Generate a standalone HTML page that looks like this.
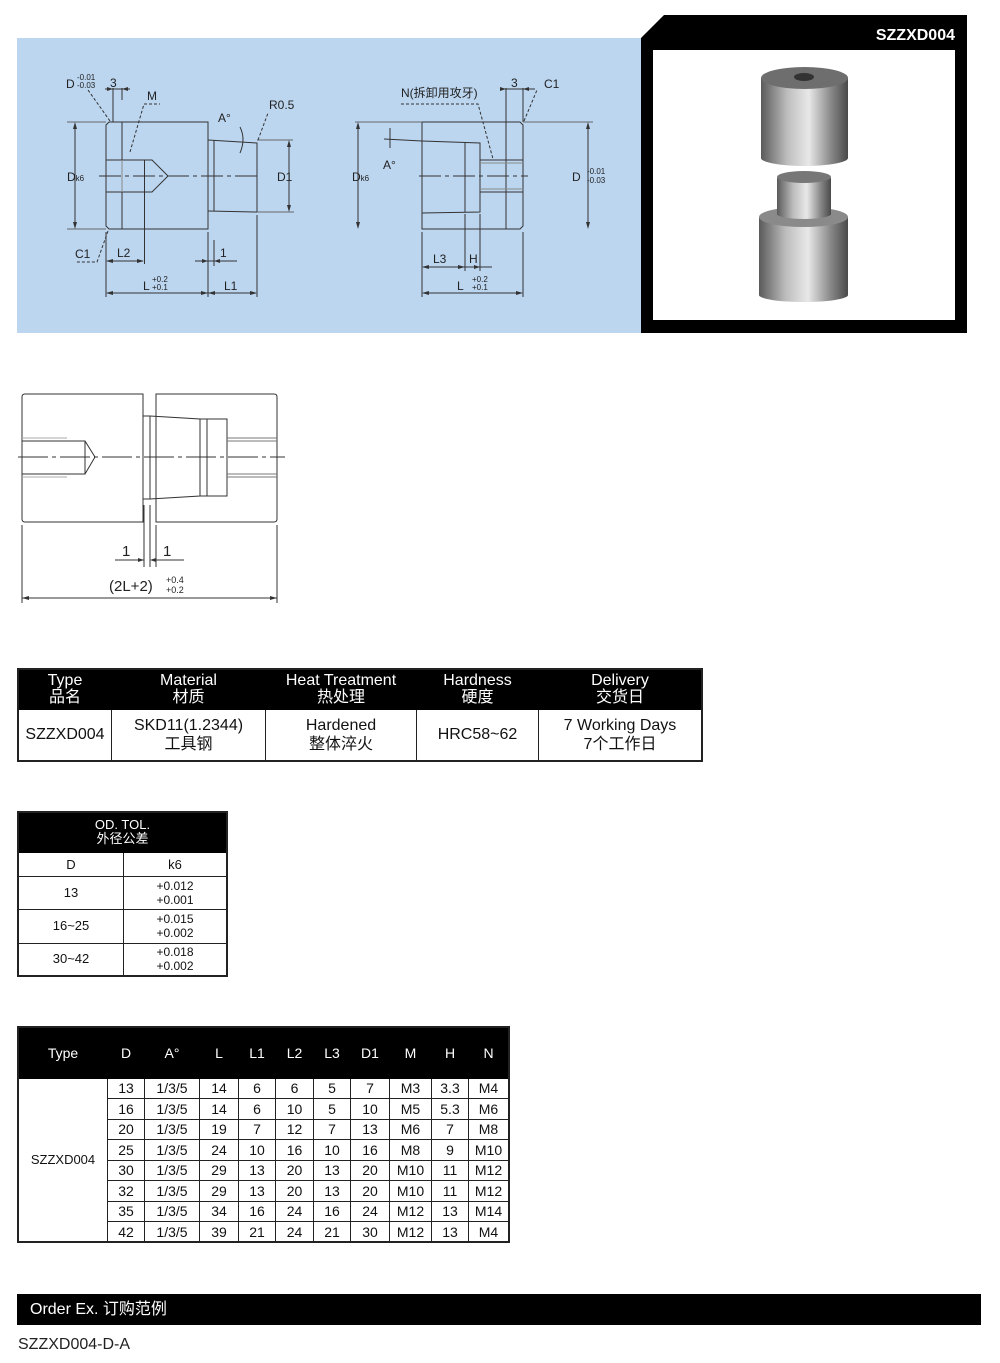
<!DOCTYPE html>
<html><head><meta charset="utf-8"><style>
body{margin:0;background:#fff;width:1000px;height:1363px;position:relative;overflow:hidden;font-family:"Liberation Sans","Noto Sans CJK SC",sans-serif;}
.a{position:absolute}
table{border-collapse:collapse;position:absolute;font-family:"Liberation Sans","Noto Sans CJK SC",sans-serif;color:#111}
td{border:1px solid #222;text-align:center;padding:0}
.h td{background:#000;color:#fff;border-color:#000}
</style></head><body>
<div class="a" style="left:17px;top:38px;width:624px;height:295px;background:#bcd6f0"></div>
<svg class="a" style="left:0;top:0" width="1000" height="340">
<polygon points="641,38 664,15 967,15 967,333 641,333" fill="#000"/>
<rect x="653" y="50" width="302" height="270" fill="#fff"/>
<text x="955" y="40" fill="#fff" font-size="16" font-weight="bold" text-anchor="end" font-family="Liberation Sans">SZZXD004</text>
<defs>
<linearGradient id="g" x1="0" x2="1"><stop offset="0" stop-color="#5a5a5a"/><stop offset=".3" stop-color="#bdbdbd"/><stop offset=".55" stop-color="#e8e8e8"/><stop offset=".8" stop-color="#8a8a8a"/><stop offset="1" stop-color="#4a4a4a"/></linearGradient>
</defs>
<rect x="761" y="78" width="87" height="80" fill="url(#g)"/>
<ellipse cx="804.5" cy="158" rx="43.5" ry="8" fill="url(#g)"/>
<ellipse cx="804.5" cy="78" rx="43.5" ry="11" fill="#6e6e6e"/>
<ellipse cx="804" cy="77" rx="10" ry="4" fill="#333"/>
<rect x="759" y="217" width="89" height="78" fill="url(#g)"/>
<ellipse cx="803.5" cy="295" rx="44.5" ry="7" fill="url(#g)"/>
<ellipse cx="803.5" cy="217" rx="44.5" ry="10" fill="#8a8a8a"/>
<rect x="777" y="178" width="54" height="36" fill="url(#g)"/>
<ellipse cx="804" cy="214" rx="27" ry="5" fill="url(#g)"/>
<ellipse cx="804" cy="177" rx="27" ry="6" fill="#777"/>
<g stroke="#333" stroke-width="1" fill="none" font-family="Liberation Sans" font-size="12">
<!-- left part -->
<path d="M109,122 H208 V229 H109 L106,226 V125 Z"/>
<line x1="122" y1="122" x2="122" y2="229"/>
<path d="M106,160 H144.5 V192 H106 M144.5,160 L152,160 L168,176 L152,192 H144.5"/>
<line x1="122" y1="160" x2="122" y2="192" stroke="#888"/>
<path d="M208,140 L257,143 V212 L208,211" />
<line x1="214" y1="140" x2="214" y2="211"/>
<line x1="99" y1="176" x2="261" y2="176" stroke-dasharray="22,4,4,4"/>
<line x1="257" y1="140" x2="293" y2="140" stroke="#666"/><line x1="257" y1="212" x2="294" y2="212" stroke="#666"/>
<line x1="289" y1="142" x2="289" y2="210"/>
<line x1="67" y1="122" x2="106" y2="122" stroke="#666"/><line x1="67" y1="229" x2="106" y2="229" stroke="#666"/>
<line x1="75" y1="124" x2="75" y2="227"/>
<line x1="106" y1="232" x2="106" y2="297"/><line x1="208" y1="232" x2="208" y2="297"/><line x1="257" y1="215" x2="257" y2="297"/><line x1="144.5" y1="192" x2="144.5" y2="264"/><line x1="214" y1="240" x2="214" y2="266"/>
<line x1="107" y1="293" x2="256" y2="293"/>
<line x1="107" y1="261" x2="143" y2="261"/>
<line x1="195" y1="261" x2="237" y2="261"/>
<line x1="113" y1="88" x2="113" y2="122"/><line x1="122" y1="88" x2="122" y2="100"/>
<line x1="105" y1="89" x2="130" y2="89"/>
<path d="M110,121 L88,90 M108,231 L97,262 H75" stroke-dasharray="3,2"/>
<path d="M130,152 L144,104 H160" stroke-dasharray="3,2"/>
<path d="M258,140 L268,113" stroke-dasharray="3,2"/>
<path d="M240,127 Q246,139 240,153"/>
<!-- right part -->
<path d="M422,122 H520 L523,125 V226 L520,229 H422 Z"/>
<line x1="506" y1="122" x2="506" y2="229"/>
<path d="M384,139 L422,141 L480,143 V212 L422,213"/>
<line x1="465" y1="143" x2="465" y2="212"/>
<path d="M480,160 H523 M480,192 H523"/>
<line x1="480" y1="163" x2="523" y2="163" stroke="#888"/><line x1="480" y1="189" x2="523" y2="189" stroke="#888"/>
<line x1="419" y1="176" x2="528" y2="176" stroke-dasharray="22,4,4,4"/>
<line x1="355" y1="122" x2="422" y2="122" stroke="#666"/><line x1="523" y1="122" x2="593" y2="122" stroke="#666"/>
<line x1="358" y1="124" x2="358" y2="227"/><line x1="588" y1="124" x2="588" y2="227"/>
<line x1="422" y1="232" x2="422" y2="297"/><line x1="465" y1="214" x2="465" y2="271"/><line x1="480" y1="214" x2="480" y2="271"/><line x1="523" y1="232" x2="523" y2="297"/>
<line x1="423" y1="293" x2="522" y2="293"/>
<line x1="423" y1="267" x2="492" y2="267"/>
<line x1="506" y1="88" x2="506" y2="122"/><line x1="523" y1="88" x2="523" y2="122"/><line x1="501" y1="89" x2="535" y2="89"/>
<path d="M524,121 L537,90" stroke-dasharray="3,2"/>
<path d="M401,104 H478 L493,159" stroke-dasharray="3,2"/>
<path d="M390,128 V148"/>
</g>
<g fill="#333">
<path d="M75,122 l-2,7 h4z M75,229 l-2,-7 h4z M289,140 l-2,7 h4z M289,212 l-2,-7 h4z M106,293 l7,-2 v4z M208,293 l-7,-2 v4z M208,293 l7,-2 v4z M257,293 l-7,-2 v4z M106,261 l7,-2 v4z M144,261 l-7,-2 v4z M208,261 l-6,-2 v4z M214,261 l6,-2 v4z M113,89 l-6,-2 v4z M122,89 l6,-2 v4z"/>
<path d="M358,122 l-2,7 h4z M358,229 l-2,-7 h4z M588,122 l-2,7 h4z M588,229 l-2,-7 h4z M422,293 l7,-2 v4z M523,293 l-7,-2 v4z M422,267 l7,-2 v4z M465,267 l-7,-2 v4z M480,267 l-6,-2 v4z M506,89 l-6,-2 v4z M523,89 l6,-2 v4z"/>
</g>
<g font-family="Liberation Sans" fill="#222" font-size="12">
<text x="66" y="88">D</text><text x="77" y="80" font-size="8">-0.01</text><text x="77" y="88" font-size="8">-0.03</text>
<text x="110" y="87">3</text><text x="147" y="100">M</text><text x="269" y="109">R0.5</text><text x="218" y="122">A°</text>
<text x="67" y="181">D<tspan font-size="8">k6</tspan></text><text x="277" y="181">D1</text>
<text x="75" y="258">C1</text><text x="117" y="257">L2</text><text x="220" y="257">1</text>
<text x="143" y="290">L</text><text x="152" y="282" font-size="8">+0.2</text><text x="152" y="290" font-size="8">+0.1</text><text x="224" y="290">L1</text>
<text x="401" y="97" font-family="Liberation Sans,Noto Sans CJK SC">N(拆卸用攻牙)</text>
<text x="511" y="87">3</text><text x="544" y="88">C1</text><text x="383" y="169">A°</text>
<text x="352" y="181">D<tspan font-size="8">k6</tspan></text>
<text x="572" y="181">D</text><text x="587" y="174" font-size="8">-0.01</text><text x="587" y="183" font-size="8">-0.03</text>
<text x="433" y="263">L3</text><text x="469" y="263">H</text>
<text x="457" y="290">L</text><text x="472" y="282" font-size="8">+0.2</text><text x="472" y="290" font-size="8">+0.1</text>
</g>
</svg>

<svg class="a" style="left:0;top:380px" width="300" height="230">
<g stroke="#333" fill="none" stroke-width="1">
<path d="M25,14 H143 V142 H25 Q22,142 22,139 V17 Q22,14 25,14 Z"/>
<path d="M156,14 H274 Q277,14 277,17 V139 Q277,142 274,142 H156 Z"/>
<path d="M143,36 H150 V119 H143"/>
<path d="M150,36 L200,39 V116 L150,119"/>
<path d="M200,39 H227 V116 H200 M207,39 V116"/>
<path d="M22,61 H85 L95,77 L85,94 H22 M85,61 V94"/>
<path d="M22,58 H67 M22,97 H67" stroke="#aaa"/>
<path d="M227,58 H277 M227,61 H277 M227,94 H277 M227,97 H277" stroke="#777"/>
<line x1="18" y1="77" x2="285" y2="77" stroke-dasharray="30,4,4,4"/>
<path d="M144,125 V187 M150,125 V187 M156,145 V187"/>
<path d="M115,180 H144 M156,180 H184"/>
<path d="M22,145 V223 M277,145 V223 M22,218 H277"/>
</g>
<g fill="#333"><path d="M144,180 l-6,-2 v4z M150,180 l6,-2 v4z M22,218 l7,-2 v4z M277,218 l-7,-2 v4z"/></g>
<g font-family="Liberation Sans" fill="#222" font-size="15">
<text x="122" y="176">1</text><text x="163" y="176">1</text>
<text x="109" y="211">(2L+2)</text><text x="166" y="203" font-size="9">+0.4</text><text x="166" y="213" font-size="9">+0.2</text>
</g>
</svg>

<table style="left:17px;top:668px;width:686px;border:2px solid #222">
<tr class="h" style="height:40px;font-size:16px;line-height:17px"><td style="width:92px">Type<br>品名</td><td style="width:153px">Material<br>材质</td><td style="width:150px">Heat Treatment<br>热处理</td><td style="width:121px">Hardness<br>硬度</td><td>Delivery<br>交货日</td></tr>
<tr style="height:52px;font-size:16px;line-height:19px"><td>SZZXD004</td><td>SKD11(1.2344)<br>工具钢</td><td>Hardened<br>整体淬火</td><td>HRC58~62</td><td>7 Working Days<br>7个工作日</td></tr>
</table>

<table style="left:17px;top:811px;width:211px;border:2px solid #222;font-size:13px">
<tr class="h" style="height:40px;line-height:14px"><td colspan="2">OD. TOL.<br>外径公差</td></tr>
<tr style="height:24px"><td style="width:104px">D</td><td>k6</td></tr>
<tr style="height:33px;line-height:14px"><td>13</td><td style="font-size:12px">+0.012<br>+0.001</td></tr>
<tr style="height:34px;line-height:14px"><td>16~25</td><td style="font-size:12px">+0.015<br>+0.002</td></tr>
<tr style="height:33px;line-height:14px"><td>30~42</td><td style="font-size:12px">+0.018<br>+0.002</td></tr>
</table>

<table style="left:17px;top:1026px;width:493px;border:2px solid #222;font-size:14px">
<tr class="h" style="height:51px"><td style="width:88px">Type</td><td style="width:36px">D</td><td style="width:54px">A°</td><td style="width:38px">L</td><td style="width:36px">L1</td><td style="width:37px">L2</td><td style="width:36px">L3</td><td style="width:38px">D1</td><td style="width:41px">M</td><td style="width:36px">H</td><td>N</td></tr>
<tr style="height:20.5px"><td rowspan="8" style="font-size:13px">SZZXD004</td><td>13</td><td>1/3/5</td><td>14</td><td>6</td><td>6</td><td>5</td><td>7</td><td>M3</td><td>3.3</td><td>M4</td></tr>
<tr style="height:20.5px"><td>16</td><td>1/3/5</td><td>14</td><td>6</td><td>10</td><td>5</td><td>10</td><td>M5</td><td>5.3</td><td>M6</td></tr>
<tr style="height:20.5px"><td>20</td><td>1/3/5</td><td>19</td><td>7</td><td>12</td><td>7</td><td>13</td><td>M6</td><td>7</td><td>M8</td></tr>
<tr style="height:20.5px"><td>25</td><td>1/3/5</td><td>24</td><td>10</td><td>16</td><td>10</td><td>16</td><td>M8</td><td>9</td><td>M10</td></tr>
<tr style="height:20.5px"><td>30</td><td>1/3/5</td><td>29</td><td>13</td><td>20</td><td>13</td><td>20</td><td>M10</td><td>11</td><td>M12</td></tr>
<tr style="height:20.5px"><td>32</td><td>1/3/5</td><td>29</td><td>13</td><td>20</td><td>13</td><td>20</td><td>M10</td><td>11</td><td>M12</td></tr>
<tr style="height:20.5px"><td>35</td><td>1/3/5</td><td>34</td><td>16</td><td>24</td><td>16</td><td>24</td><td>M12</td><td>13</td><td>M14</td></tr>
<tr style="height:20.5px"><td>42</td><td>1/3/5</td><td>39</td><td>21</td><td>24</td><td>21</td><td>30</td><td>M12</td><td>13</td><td>M4</td></tr>
</table>

<div class="a" style="left:17px;top:1294px;width:964px;height:31px;background:#000;color:#fff;font-size:16px;line-height:31px;padding-left:13px;box-sizing:border-box">Order Ex. 订购范例</div>
<div class="a" style="left:18px;top:1336px;font-size:16px;color:#222">SZZXD004-D-A</div>
</body></html>
